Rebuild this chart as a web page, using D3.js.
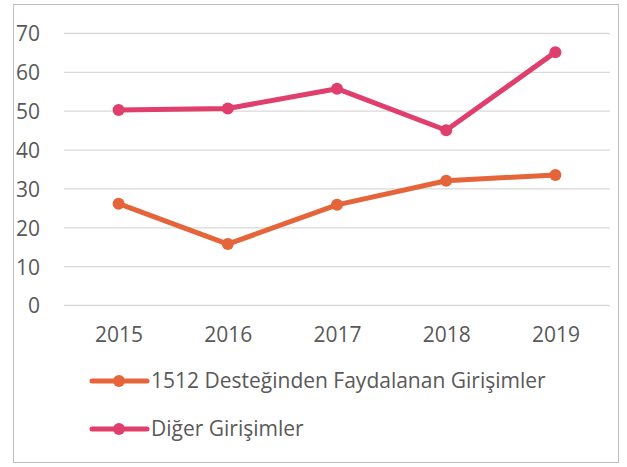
<!DOCTYPE html>
<html>
<head>
<meta charset="utf-8">
<script src="https://cdn.jsdelivr.net/npm/d3@7"></script>
<style>
  body { margin: 0; background: #fff; }
  svg text { font-family: "Open Sans", Lato, sans-serif; fill: #595959; }
</style>
</head>
<body>
<div id="chart"></div>
<script>
// data
var years = ["2015", "2016", "2017", "2018", "2019"];
var destek = [26.2, 15.8, 25.9, 32.1, 33.6];
var diger = [50.3, 50.7, 55.8, 45.1, 65.2];
var yTicks = [0, 10, 20, 30, 40, 50, 60, 70];
var seriesNames = ["1512 Desteğinden Faydalanan Girişimler", "Diğer Girişimler"];
var seriesColors = ["#E6643A", "#E03F6E"];

var W = 627, H = 467;
var margin = {top: 33.5, left: 64, right: 17, bottom: 161.5};
var width = W - margin.left - margin.right,
    height = H - margin.top - margin.bottom;

var svg = d3.select("#chart").append("svg")
    .attr("width", W)
    .attr("height", H);

// frame
svg.append("rect")
    .attr("x", 13.5).attr("y", 4.5)
    .attr("width", 605).attr("height", 458)
    .attr("fill", "none")
    .attr("stroke", "#bfbfbf")
    .attr("stroke-width", 1);

var g = svg.append("g")
    .attr("transform", "translate(" + margin.left + "," + margin.top + ")");

var x = d3.scalePoint().domain(years).range([0, width]).padding(0.5);
var y = d3.scaleLinear().domain([0, 70]).range([height, 0]);

// gridlines
g.append("g")
    .selectAll("line")
    .data(yTicks)
    .enter().append("line")
    .attr("x1", 0).attr("x2", width)
    .attr("y1", function(d) { return y(d); })
    .attr("y2", function(d) { return y(d); })
    .attr("stroke", "#d9d9d9")
    .attr("stroke-width", 1.3);

// y axis labels
var yAxis = g.append("g")
    .call(d3.axisLeft(y).tickValues(yTicks).tickSize(0).tickPadding(24));
yAxis.select(".domain").remove();
yAxis.selectAll("text").style("font-size", "21px").attr("dy", "0.35em");

// x axis labels
var xAxis = g.append("g")
    .attr("transform", "translate(0," + height + ")")
    .call(d3.axisBottom(x).tickSize(0).tickPadding(22));
xAxis.select(".domain").remove();
xAxis.selectAll("text").style("font-size", "21px");

var line = d3.line()
    .x(function(d, i) { return x(years[i]); })
    .y(function(d) { return y(d); });

[destek, diger].forEach(function(vals, k) {
  g.append("path")
      .datum(vals)
      .attr("fill", "none")
      .attr("stroke", seriesColors[k])
      .attr("stroke-width", 5)
      .attr("stroke-linejoin", "round")
      .attr("d", line);

  g.append("g")
      .selectAll("circle")
      .data(vals)
      .enter().append("circle")
      .attr("cx", function(d, i) { return x(years[i]); })
      .attr("cy", function(d) { return y(d); })
      .attr("r", 6)
      .attr("fill", seriesColors[k]);
});

// legend
var legend = svg.append("g");
seriesNames.forEach(function(name, k) {
  var ly = 381 + k * 48;
  legend.append("line")
      .attr("x1", 92).attr("x2", 147)
      .attr("y1", ly).attr("y2", ly)
      .attr("stroke", seriesColors[k])
      .attr("stroke-width", 5)
      .attr("stroke-linecap", "round");
  legend.append("circle")
      .attr("cx", 119).attr("cy", ly)
      .attr("r", 6)
      .attr("fill", seriesColors[k]);
  legend.append("text")
      .attr("x", 151).attr("y", ly)
      .attr("dy", "0.35em")
      .style("font-size", "21px")
      .text(name);
});
</script>
</body>
</html>
